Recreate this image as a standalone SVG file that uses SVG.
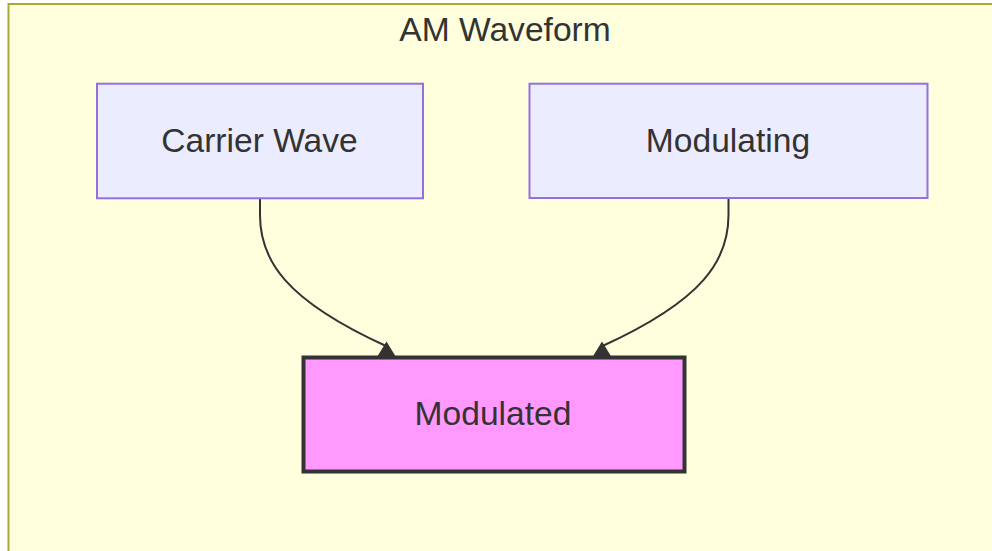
<svg xmlns="http://www.w3.org/2000/svg" width="992" height="551" viewBox="0 0 992 551">
  <style>
    .cluster rect { fill: #ffffde; stroke: #aaaa33; stroke-width: 2; }
    .node rect { fill: #ececff; stroke: #9370db; stroke-width: 2; }
    .node.mod rect { fill: #ff99ff; stroke: #333333; stroke-width: 4; }
    text { font-family: "Liberation Sans", Arial, Helvetica, sans-serif; font-size: 33.6px; fill: #333333; text-anchor: middle; }
    .edge { fill: none; stroke: #333333; stroke-width: 2; }
    .head { fill: #333333; stroke: none; }
  </style>

  <!-- subgraph container -->
  <g id="cluster-am" class="cluster">
    <rect x="8.5" y="4" width="1000" height="560"/>
    <text x="505" y="41">AM Waveform</text>
  </g>

  <!-- connectors -->
  <g id="edges">
    <path class="edge" d="M260,198 L260,215 C260,260 285,300 386,346"/>
    <polygon class="head" points="386.5,341.5 377,357 396,357"/>
    <path class="edge" d="M728.5,198 L728.5,215 C728.5,260 703.5,300 602.5,346"/>
    <polygon class="head" points="602,341.5 592.5,357 611.5,357"/>
  </g>

  <g id="node-carrier" class="node">
    <rect x="97" y="83.7" width="326" height="114.6"/>
    <text x="259.5" y="152">Carrier Wave</text>
  </g>

  <g id="node-modulating" class="node">
    <rect x="529.5" y="83.7" width="398" height="114.3"/>
    <text x="728" y="152">Modulating</text>
  </g>

  <g id="node-modulated" class="node mod">
    <rect x="303.5" y="357.5" width="381" height="114"/>
    <text x="493" y="425">Modulated</text>
  </g>
</svg>
